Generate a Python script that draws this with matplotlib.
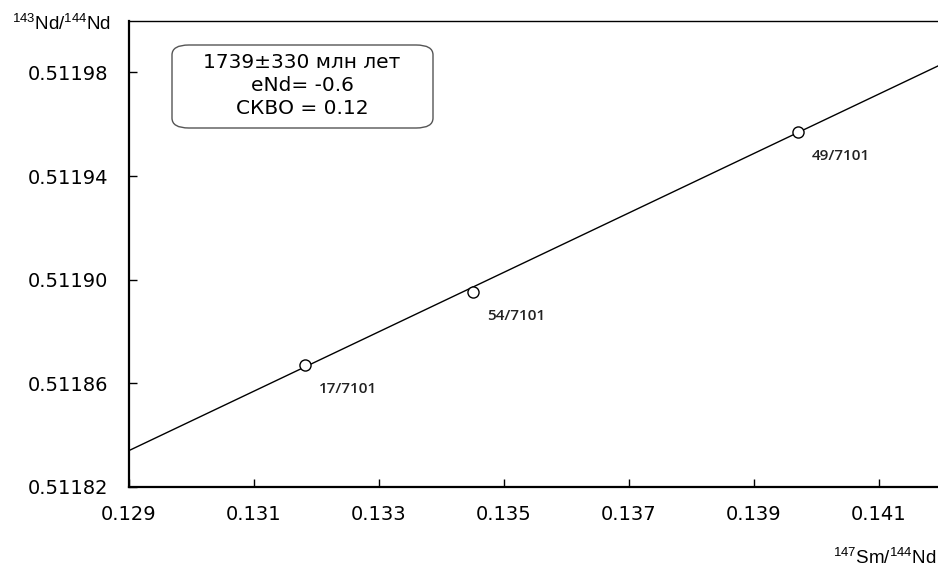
import matplotlib
matplotlib.use("Agg")
from matplotlib import pyplot as plt
from matplotlib.patches import FancyBboxPatch
import numpy as np

# Sm-Nd isochron data
sm_nd = [0.13181, 0.13450, 0.13970]
nd_nd = [0.511867, 0.511895, 0.511957]
sample_ids = ["17/7101", "54/7101", "49/7101"]

# isochron line
iso_slope = 0.01148
iso_intercept = 0.510353

x_ticks = [0.129, 0.131, 0.133, 0.135, 0.137, 0.139, 0.141]
y_ticks = [0.51182, 0.51186, 0.51190, 0.51194, 0.51198]
x_lim = (0.129, 0.142)
y_lim = (0.51182, 0.51200)

box_lines = ["1739±330 млн лет", "eNd= -0.6", "СКВО = 0.12"]

plt.rcParams["mathtext.fontset"] = "custom"
plt.rcParams["mathtext.rm"] = "Liberation Sans"
plt.rcParams["mathtext.it"] = "Liberation Sans"

fig = plt.figure(figsize=(9.38, 5.69), dpi=100)
ax = fig.add_axes([129 / 938, 82.4 / 569, 812.5 / 938, 465.9 / 569])

xs = np.array(x_lim)
ax.plot(xs, iso_intercept + iso_slope * xs, color="black", lw=1.0, zorder=2)
ax.plot(sm_nd, nd_nd, "o", ms=8, mfc="white", mec="black", mew=1.0, zorder=3)

for x, y, name in zip(sm_nd, nd_nd, sample_ids):
    ax.annotate(name, (x, y), xytext=(10, -17), textcoords="offset points",
                ha="left", va="center", fontsize=11, fontweight="semibold",
                family=["Open Sans", "DejaVu Sans"], color="#222222")

ax.set_xlim(*x_lim)
ax.set_ylim(*y_lim)
ax.set_xticks(x_ticks)
ax.set_yticks(y_ticks)
ax.set_xticklabels([f"{v:.3f}" for v in x_ticks])
ax.set_yticklabels([f"{v:.5f}" for v in y_ticks])
ax.tick_params(direction="in", length=6, width=1.0, labelsize=14)
ax.tick_params(axis="y", pad=15)
ax.tick_params(axis="x", pad=13)
for lab in ax.get_xticklabels() + ax.get_yticklabels():
    lab.set_family("DejaVu Sans")

ax.spines["left"].set_linewidth(1.6)
ax.spines["bottom"].set_linewidth(1.6)
ax.spines["top"].set_linewidth(1.0)
ax.spines["right"].set_linewidth(1.0)

# info box
box = FancyBboxPatch((172 / 938, 1 - 128 / 569), 261 / 938, 83 / 569,
                     boxstyle="round,pad=0,rounding_size=0.018",
                     transform=fig.transFigure, fc="white", ec="#555555",
                     lw=1.0, mutation_aspect=569 / 938 * 1.6)
fig.add_artist(box)
for i, line in enumerate(box_lines):
    fig.text(302 / 938, 1 - (63 + 22.5 * i) / 569, line, ha="center",
             va="center", fontsize=14.5, family="DejaVu Sans")

fig.text(12 / 938, 1 - 24 / 569, r"$^{143}$Nd/$^{144}$Nd", ha="left",
         va="center", fontsize=13.5, family="Liberation Sans")
fig.text(936 / 938, 1 - 558 / 569, r"$^{147}$Sm/$^{144}$Nd", ha="right",
         va="center", fontsize=13.5, family="Liberation Sans")

fig.savefig("out.png", dpi=100)
